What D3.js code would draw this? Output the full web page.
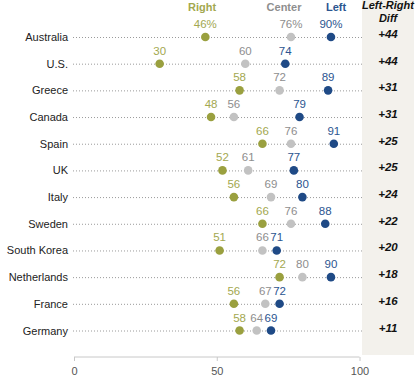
<!DOCTYPE html>
<html><head><meta charset="utf-8">
<script src="https://cdn.jsdelivr.net/npm/d3@7"></script>
<style>body{margin:0;background:#fff}svg{display:block}text{font-family:"Liberation Sans",Arial,sans-serif}</style>
</head><body><svg id="c" width="420" height="381"></svg>
<script>
const countries = ["Australia","U.S.","Greece","Canada","Spain","UK","Italy","Sweden","South Korea","Netherlands","France","Germany"];
const rightVals = [46,30,58,48,66,52,56,66,51,72,56,58];
const centerVals = [76,60,72,56,76,61,69,76,66,80,67,64];
const leftVals = [90,74,89,79,91,77,80,88,71,90,72,69];
const diffVals = [44,44,31,31,25,25,24,22,20,18,16,11];
const xTicks = [0,50,100];

const svg = d3.select("#c");
const x = d3.scaleLinear().domain([0,100]).range([74,359.5]);
const y = d3.scalePoint().domain(countries).range([37,330.5]);

// diff panel
svg.append("rect").attr("x",362).attr("y",0).attr("width",52).attr("height",355).attr("fill","#f3f1ec");
svg.append("text").attr("x",388).attr("y",9).attr("text-anchor","middle").attr("font-size",11).attr("font-weight","bold").attr("font-style","italic").attr("fill","#111").text("Left-Right");
svg.append("text").attr("x",388).attr("y",22).attr("text-anchor","middle").attr("font-size",11).attr("font-weight","bold").attr("font-style","italic").attr("fill","#111").text("Diff");

const series = [
  {name:"Right", vals:rightVals, dot:"#9aa03f", txt:"#a3a84f", hx:202},
  {name:"Center", vals:centerVals, dot:"#c2c2c2", txt:"#8e8e8e", hx:284},
  {name:"Left", vals:leftVals, dot:"#1f4a86", txt:"#2b5590", hx:336}
];
series.forEach(s=>{
  svg.append("text").attr("x",s.hx).attr("y",11).attr("text-anchor","middle").attr("font-size",11).attr("font-weight","bold").attr("fill",s.txt).text(s.name);
});

const rows = svg.selectAll("g.row").data(countries).join("g").attr("class","row");
rows.append("text").attr("x",68).attr("y",d=>y(d)+4).attr("text-anchor","end").attr("font-size",11).attr("fill","#222").text(d=>d);
rows.append("line").attr("x1",73).attr("x2",362).attr("y1",d=>y(d)+0.5).attr("y2",d=>y(d)+0.5)
  .attr("stroke","#9a9a9a").attr("stroke-width",1).attr("stroke-dasharray","1,2");

series.forEach(s=>{
  svg.selectAll(null).data(countries).join("circle")
    .attr("cx",(d,i)=>x(s.vals[i])).attr("cy",d=>y(d)).attr("r",4.3).attr("fill",s.dot);
  svg.selectAll(null).data(countries).join("text")
    .attr("x",(d,i)=>x(s.vals[i])).attr("y",d=>y(d)-9).attr("text-anchor","middle")
    .attr("font-size",11.5).attr("fill",s.txt)
    .text((d,i)=>s.vals[i]+(i===0?"%":""));
});

svg.selectAll(null).data(countries).join("text")
  .attr("x",388).attr("y",d=>y(d)+1).attr("text-anchor","middle").attr("font-size",11.5)
  .attr("font-weight","bold").attr("font-style","italic").attr("fill","#111")
  .text((d,i)=>"+"+diffVals[i]);

// axis
const ax = svg.append("g").attr("transform","translate(0,357)")
  .call(d3.axisBottom(x).tickValues(xTicks).tickSize(4).tickPadding(6));
ax.select(".domain").attr("stroke","#c8c8c8").attr("d","M74,0H359.5");
ax.selectAll(".tick line").attr("stroke","#c8c8c8");
ax.selectAll(".tick text").attr("font-size",11).attr("fill","#555").attr("font-family","Liberation Sans, Arial, sans-serif");
</script></body></html>
